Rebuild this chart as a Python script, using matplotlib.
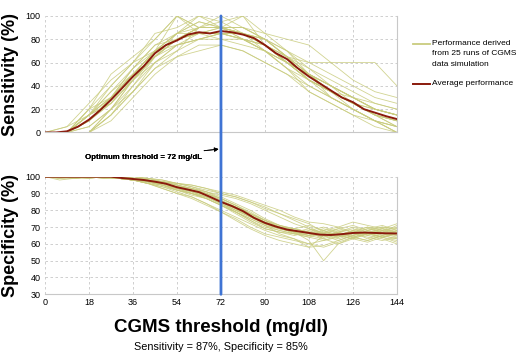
import numpy as np
import matplotlib.pyplot as plt
from matplotlib.patches import ConnectionPatch
from matplotlib.lines import Line2D

plt.rcParams['font.family'] = ['Liberation Sans', 'DejaVu Sans']

# threshold grids (mg/dl)
x_avg = np.arange(0, 144.1, 4.5)
x_sens_run = np.arange(0, 144.1, 9)
x_spec_run = np.arange(0, 144.1, 6)
xticks = [0, 18, 36, 54, 72, 90, 108, 126, 144]
optimum = 72

# average curves
sens_avg = [0, 0, 1, 5, 11, 19, 28, 38, 48, 57, 68, 75, 79, 84, 86, 85, 87,
            86, 84, 81, 75, 68, 63, 55, 48, 42, 36, 30, 26, 20, 17, 14, 11.5]
spec_avg = [100, 100, 100, 100, 100, 100, 100, 99.2, 98.6, 98, 97, 95.8, 93.7,
            92.3, 90.8, 88, 85, 82.5, 79.5, 75.5, 72.5, 70.3, 68.5, 67.5, 66.5,
            65.5, 65.3, 65.8, 66.5, 66.7, 66.5, 66.3, 66.2]

# 25 simulation runs (estimated)
sens_runs = [
    [0, 0, 15, 30, 50, 70, 80, 90, 90, 85, 75, 60, 45, 35, 25, 15, 10],
    [0, 0, 0, 20, 45, 65, 85, 100, 90, 90, 80, 70, 60, 50, 40, 30, 25],
    [0, 5, 25, 45, 60, 80, 100, 85, 85, 80, 70, 60, 50, 30, 20, 10, 5],
    [0, 0, 10, 25, 45, 60, 75, 80, 85, 85, 75, 65, 45, 35, 25, 15, 10],
    [0, 0, 15, 40, 60, 85, 90, 100, 95, 100, 85, 70, 55, 45, 35, 25, 20],
    [0, 0, 0, 10, 30, 50, 65, 75, 75, 70, 60, 50, 35, 25, 15, 5, 0],
    [0, 0, 20, 30, 50, 65, 80, 85, 90, 85, 70, 60, 50, 40, 25, 20, 15],
    [0, 0, 0, 15, 35, 55, 70, 90, 90, 80, 75, 60, 45, 35, 25, 15, 10],
    [0, 0, 15, 35, 55, 75, 85, 90, 100, 90, 80, 65, 60, 60, 60, 60, 40],
    [0, 0, 10, 30, 50, 70, 85, 95, 90, 85, 80, 70, 50, 35, 25, 15, 5],
    [0, 0, 0, 15, 40, 65, 80, 85, 80, 80, 70, 55, 40, 30, 20, 10, 0],
    [0, 0, 15, 25, 45, 70, 75, 80, 85, 85, 75, 65, 50, 40, 30, 20, 15],
    [0, 0, 20, 50, 65, 80, 100, 90, 90, 90, 85, 80, 75, 60, 45, 35, 30],
    [0, 0, 5, 20, 35, 55, 65, 70, 75, 70, 60, 50, 40, 30, 20, 10, 5],
    [0, 0, 10, 30, 55, 70, 80, 90, 95, 85, 75, 60, 50, 35, 25, 15, 5],
    [0, 0, 15, 35, 50, 65, 80, 85, 85, 80, 70, 55, 35, 25, 15, 10, 0],
    [0, 0, 0, 20, 45, 70, 85, 95, 90, 90, 80, 65, 50, 40, 30, 20, 15],
    [0, 0, 10, 25, 45, 65, 75, 80, 85, 80, 75, 60, 45, 35, 25, 15, 10],
    [0, 0, 15, 30, 55, 75, 80, 90, 90, 85, 80, 65, 55, 40, 30, 20, 15],
    [0, 0, 20, 40, 60, 70, 80, 85, 85, 80, 75, 60, 45, 35, 20, 10, 0],
    [0, 0, 5, 20, 40, 60, 75, 85, 90, 100, 75, 60, 50, 35, 25, 20, 15],
    [0, 0, 10, 30, 45, 65, 80, 90, 90, 80, 70, 55, 45, 35, 30, 20, 15],
    [0, 0, 15, 25, 50, 70, 85, 85, 85, 85, 80, 65, 50, 40, 30, 25, 20],
    [0, 0, 0, 15, 35, 60, 70, 80, 80, 75, 70, 60, 45, 30, 20, 10, 5],
    [0, 5, 15, 30, 50, 70, 100, 90, 90, 85, 75, 65, 50, 40, 30, 20, 15],
]
spec_runs = [
    [100, 100, 100, 100, 100, 99, 98, 97, 95, 92, 90, 88, 84, 80, 76, 72, 70, 68, 66, 64, 66, 65, 67, 66, 65],
    [100, 100, 99, 100, 100, 100, 99, 98, 97, 95, 93, 90, 87, 83, 78, 74, 70, 67, 65, 68, 64, 67, 63, 66, 68],
    [100, 99, 99, 100, 100, 99, 98, 96, 93, 90, 87, 83, 79, 75, 70, 66, 64, 62, 60, 62, 65, 63, 66, 64, 62],
    [100, 100, 100, 100, 99, 100, 99, 99, 98, 96, 94, 92, 90, 88, 85, 82, 78, 74, 70, 66, 69, 67, 70, 68, 66],
    [100, 100, 100, 99, 100, 99, 98, 97, 96, 93, 91, 88, 85, 82, 77, 71, 66, 63, 60, 58, 61, 64, 62, 65, 63],
    [100, 100, 100, 100, 100, 100, 100, 99, 97, 96, 95, 93, 91, 89, 86, 83, 80, 76, 73, 72, 70, 73, 71, 69, 72],
    [100, 98, 99, 100, 100, 99, 98, 97, 95, 92, 89, 87, 83, 79, 74, 69, 67, 65, 67, 63, 60, 63, 61, 64, 61],
    [100, 100, 100, 100, 100, 100, 99, 98, 96, 94, 92, 90, 86, 82, 78, 74, 71, 69, 71, 68, 70, 67, 69, 71, 68],
    [100, 100, 99, 99, 100, 99, 98, 96, 93, 90, 88, 84, 79, 74, 69, 65, 62, 60, 58, 59, 62, 65, 67, 64, 66],
    [100, 100, 100, 100, 100, 100, 99, 98, 97, 96, 95, 93, 90, 88, 85, 81, 78, 75, 72, 67, 69, 71, 68, 70, 69],
    [100, 99, 100, 100, 100, 99, 98, 97, 95, 93, 90, 88, 84, 79, 75, 71, 69, 67, 62, 50, 60, 64, 62, 65, 63],
    [100, 100, 100, 100, 100, 100, 99, 97, 96, 94, 92, 89, 85, 81, 77, 73, 70, 66, 65, 66, 63, 66, 64, 62, 64],
    [100, 100, 100, 100, 99, 99, 98, 98, 96, 94, 93, 91, 89, 87, 84, 80, 76, 72, 69, 65, 67, 69, 66, 68, 70],
    [100, 100, 100, 100, 100, 99, 99, 97, 95, 92, 90, 87, 83, 78, 73, 69, 67, 66, 64, 67, 65, 68, 66, 64, 67],
    [100, 100, 99, 100, 100, 100, 98, 98, 97, 95, 92, 89, 85, 80, 76, 73, 70, 69, 67, 69, 66, 64, 67, 69, 66],
    [100, 100, 100, 100, 100, 99, 98, 96, 94, 91, 88, 84, 80, 76, 72, 68, 65, 63, 58, 65, 62, 65, 68, 66, 64],
    [100, 100, 100, 100, 100, 100, 100, 99, 98, 96, 94, 91, 87, 83, 78, 74, 71, 69, 67, 64, 67, 70, 67, 65, 68],
    [100, 100, 100, 99, 100, 99, 99, 98, 96, 94, 91, 88, 84, 80, 77, 72, 69, 67, 69, 66, 68, 66, 69, 67, 71],
    [100, 100, 100, 100, 100, 100, 99, 98, 96, 93, 92, 90, 87, 83, 79, 74, 70, 68, 66, 65, 67, 65, 68, 70, 67],
    [100, 99, 100, 100, 100, 99, 98, 96, 95, 93, 90, 87, 83, 79, 75, 71, 68, 66, 64, 62, 64, 67, 65, 63, 60],
    [100, 100, 100, 100, 100, 100, 99, 98, 97, 95, 93, 91, 88, 84, 80, 75, 71, 68, 66, 68, 65, 68, 70, 67, 65],
    [100, 100, 100, 100, 100, 99, 98, 97, 95, 93, 91, 89, 85, 81, 76, 72, 69, 67, 65, 63, 66, 64, 66, 68, 66],
    [100, 100, 100, 100, 99, 99, 98, 96, 94, 92, 90, 87, 83, 79, 74, 70, 68, 66, 68, 70, 67, 64, 66, 69, 67],
    [100, 100, 99, 100, 100, 100, 99, 99, 97, 95, 93, 90, 86, 82, 78, 73, 70, 69, 67, 66, 64, 68, 65, 67, 69],
    [100, 100, 100, 100, 100, 99, 98, 97, 96, 94, 92, 89, 85, 81, 77, 72, 69, 67, 65, 67, 65, 63, 66, 64, 66],
]

RUN_COLOR = '#c9cc7e'
AVG_COLOR = '#8a1a0c'
BLUE = '#3f74d4'
GRID = '#c8c8c8'

fig = plt.figure(figsize=(5.23, 3.62), dpi=100)
ax1 = fig.add_axes([0.086, 0.634, 0.673, 0.322])
ax2 = fig.add_axes([0.086, 0.187, 0.673, 0.325])


def style(ax, ylim, yticks):
    ax.set_xlim(0, 144)
    ax.set_ylim(*ylim)
    ax.set_xticks(xticks)
    ax.set_yticks(yticks)
    ax.grid(True, color=GRID, linestyle=(0, (3, 3)), linewidth=0.6)
    ax.tick_params(length=0, labelsize=6.5, pad=3)
    for s in ['top', 'left']:
        ax.spines[s].set_visible(False)
    for s in ['right', 'bottom']:
        ax.spines[s].set_color('#c8c8c8')
        ax.spines[s].set_linewidth(0.8)
    ax.set_axisbelow(True)


for run in sens_runs:
    ax1.plot(x_sens_run, run, color=RUN_COLOR, lw=0.6, alpha=0.85)
ax1.plot(x_avg, sens_avg, color=AVG_COLOR, lw=1.4)
style(ax1, (0, 100), [0, 20, 40, 60, 80, 100])
ax1.set_xticklabels([])
ax1.set_ylabel('Sensitivity (%)', fontsize=13, fontweight='bold', labelpad=5)

for run in spec_runs:
    ax2.plot(x_spec_run, run, color=RUN_COLOR, lw=0.6, alpha=0.85)
ax2.plot(x_avg, spec_avg, color=AVG_COLOR, lw=1.4)
style(ax2, (30, 100), [30, 40, 50, 60, 70, 80, 90, 100])
ax2.set_ylabel('Specificity (%)', fontsize=13, fontweight='bold', labelpad=5)
ax2.set_xlabel('CGMS threshold (mg/dl)', fontsize=13.5, fontweight='bold', labelpad=8)

# optimum threshold line across both panels
con = ConnectionPatch(xyA=(optimum, 100), coordsA=ax1.transData,
                      xyB=(optimum, 30), coordsB=ax2.transData,
                      color=BLUE, lw=2, zorder=10)
fig.add_artist(con)

fig.add_artist(plt.annotate('Optimum threshold = 72 mg/dL',
                            xy=(0.418, 0.588), xycoords='figure fraction',
                            xytext=(0.163, 0.566), textcoords='figure fraction',
                            fontsize=5.7, fontweight='bold', ha='left', va='center',
                            arrowprops=dict(arrowstyle='-|>', color='black', lw=0.6,
                                            mutation_scale=6, shrinkA=1, shrinkB=0)))

fig.text(0.423, 0.041, 'Sensitivity = 87%, Specificity = 85%', fontsize=7.8,
         ha='center', va='center')

# legend drawn by hand so the swatch sits on the first text line
fig.add_artist(Line2D([0.790, 0.822], [0.878, 0.878], color=RUN_COLOR, lw=1.3))
fig.text(0.826, 0.889, 'Performance derived\nfrom 25 runs of CGMS\ndata simulation',
         fontsize=6, va='top', ha='left', linespacing=1.65)
fig.add_artist(Line2D([0.790, 0.822], [0.768, 0.768], color=AVG_COLOR, lw=1.4))
fig.text(0.826, 0.768, 'Average performance', fontsize=6, va='center', ha='left')

fig.savefig('out.png', dpi=100)
